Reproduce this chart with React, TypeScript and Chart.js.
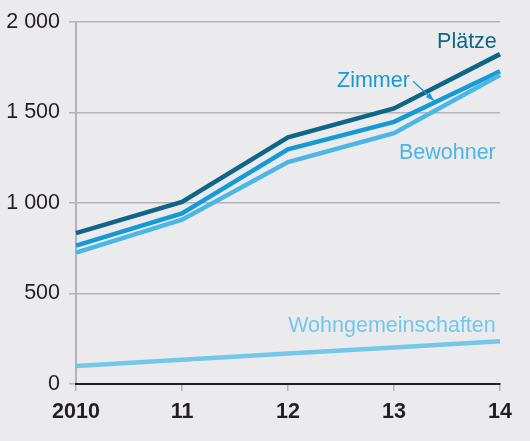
import React, { useEffect, useRef } from "react";
import { Chart, registerables } from "chart.js";

Chart.register(...registerables);

const years = ["2010", "11", "12", "13", "14"];
const plaetze = [833, 1006, 1362, 1522, 1822];
const zimmer = [764, 942, 1296, 1448, 1727];
const bewohner = [726, 908, 1226, 1385, 1707];
const wohngemeinschaften = [99, 134, 168, 201, 236];

const colPlaetze = "#0e6588";
const colZimmer = "#159ad6";
const colBewohner = "#4cb6e4";
const colWG = "#74c7e8";

// series labels: [text, x (category index), y (value), colour]
const seriesLabels: [string, number, number, string][] = [
  ["Plätze", 3.97, 1857, colPlaetze],
  ["Zimmer", 3.15, 1643, colZimmer],
  ["Bewohner", 3.96, 1242, colBewohner],
  ["Wohngemeinschaften", 3.96, 286, colWG],
];
// arrow from Zimmer label to its line: [x0, y0, x1, y1]
const zimmerArrow = [3.18, 1672, 3.375, 1566];

function fmt(v: number) {
  if (v >= 1000) {
    return `${Math.floor(v / 1000)} ${String(v % 1000).padStart(3, "0")}`;
  }
  return String(v);
}

const labelPlugin = {
  id: "seriesLabels",
  afterDatasetsDraw(chart: any) {
    const { ctx, scales } = chart;
    const x = scales.x;
    const y = scales.y;
    ctx.save();
    ctx.font = '21.5px "Liberation Sans", Arial, sans-serif';
    ctx.textAlign = "right";
    ctx.textBaseline = "alphabetic";
    for (const [t, xv, yv, c] of seriesLabels) {
      ctx.fillStyle = c;
      ctx.fillText(t, x.getPixelForValue(xv), y.getPixelForValue(yv));
    }
    const x0 = x.getPixelForValue(zimmerArrow[0]);
    const y0 = y.getPixelForValue(zimmerArrow[1]);
    const x1 = x.getPixelForValue(zimmerArrow[2]);
    const y1 = y.getPixelForValue(zimmerArrow[3]);
    ctx.strokeStyle = colZimmer;
    ctx.fillStyle = colZimmer;
    ctx.lineWidth = 1.2;
    ctx.beginPath();
    ctx.moveTo(x0, y0);
    ctx.lineTo(x1, y1);
    ctx.stroke();
    const ang = Math.atan2(y1 - y0, x1 - x0);
    const L = 8;
    const W = 3;
    ctx.beginPath();
    ctx.moveTo(x1, y1);
    ctx.lineTo(
      x1 - L * Math.cos(ang) + W * Math.sin(ang),
      y1 - L * Math.sin(ang) - W * Math.cos(ang)
    );
    ctx.lineTo(
      x1 - L * Math.cos(ang) - W * Math.sin(ang),
      y1 - L * Math.sin(ang) + W * Math.cos(ang)
    );
    ctx.closePath();
    ctx.fill();
    ctx.restore();
  },
};

export default function App() {
  const ref = useRef<HTMLCanvasElement | null>(null);
  useEffect(() => {
    document.body.style.margin = "0";
    if (!ref.current) return;
    const mk = (data: number[], color: string) => ({
      data,
      borderColor: color,
      backgroundColor: color,
      borderWidth: 4.5,
      pointRadius: 0,
      tension: 0,
      fill: false,
      borderCapStyle: "butt" as const,
      borderJoinStyle: "miter" as const,
    });
    const chart = new Chart(ref.current, {
      type: "line",
      data: {
        labels: years,
        datasets: [
          mk(wohngemeinschaften, colWG),
          mk(bewohner, colBewohner),
          mk(zimmer, colZimmer),
          mk(plaetze, colPlaetze),
        ],
      },
      options: {
        responsive: false,
        animation: false,
        layout: { padding: { top: 20, right: 30, left: 0, bottom: 0 } },
        plugins: {
          legend: { display: false },
          tooltip: { enabled: false },
        },
        scales: {
          x: {
            type: "category",
            offset: false,
            afterFit: (s: any) => {
              s.height = 57;
            },
            grid: {
              drawOnChartArea: false,
              drawTicks: true,
              tickLength: 7,
              color: "#b4b4b6",
              lineWidth: 1.5,
            },
            border: { display: true, color: "#231f20", width: 2, z: 1 },
            ticks: {
              color: "#231f20",
              padding: 8,
              maxRotation: 0,
              font: {
                family: '"Liberation Sans", Arial, sans-serif',
                size: 21.5,
                weight: "bold",
              },
            },
          },
          y: {
            min: 0,
            max: 2000,
            afterFit: (s: any) => {
              s.width = 76;
            },
            grid: {
              tickLength: 7,
              color: "#b4b4b6",
              lineWidth: 1.5,
            },
            border: { display: true, color: "#b4b4b6", width: 2 },
            ticks: {
              stepSize: 500,
              color: "#231f20",
              padding: 9,
              callback: (v: any) => fmt(Number(v)),
              font: {
                family: '"Liberation Sans", Arial, sans-serif',
                size: 21.5,
              },
            },
          },
        },
      },
      plugins: [labelPlugin],
    });
    return () => chart.destroy();
  }, []);
  return (
    <div style={{ width: 530, height: 441, background: "#ebebed" }}>
      <canvas ref={ref} width={530} height={441} style={{ display: "block" }} />
    </div>
  );
}
